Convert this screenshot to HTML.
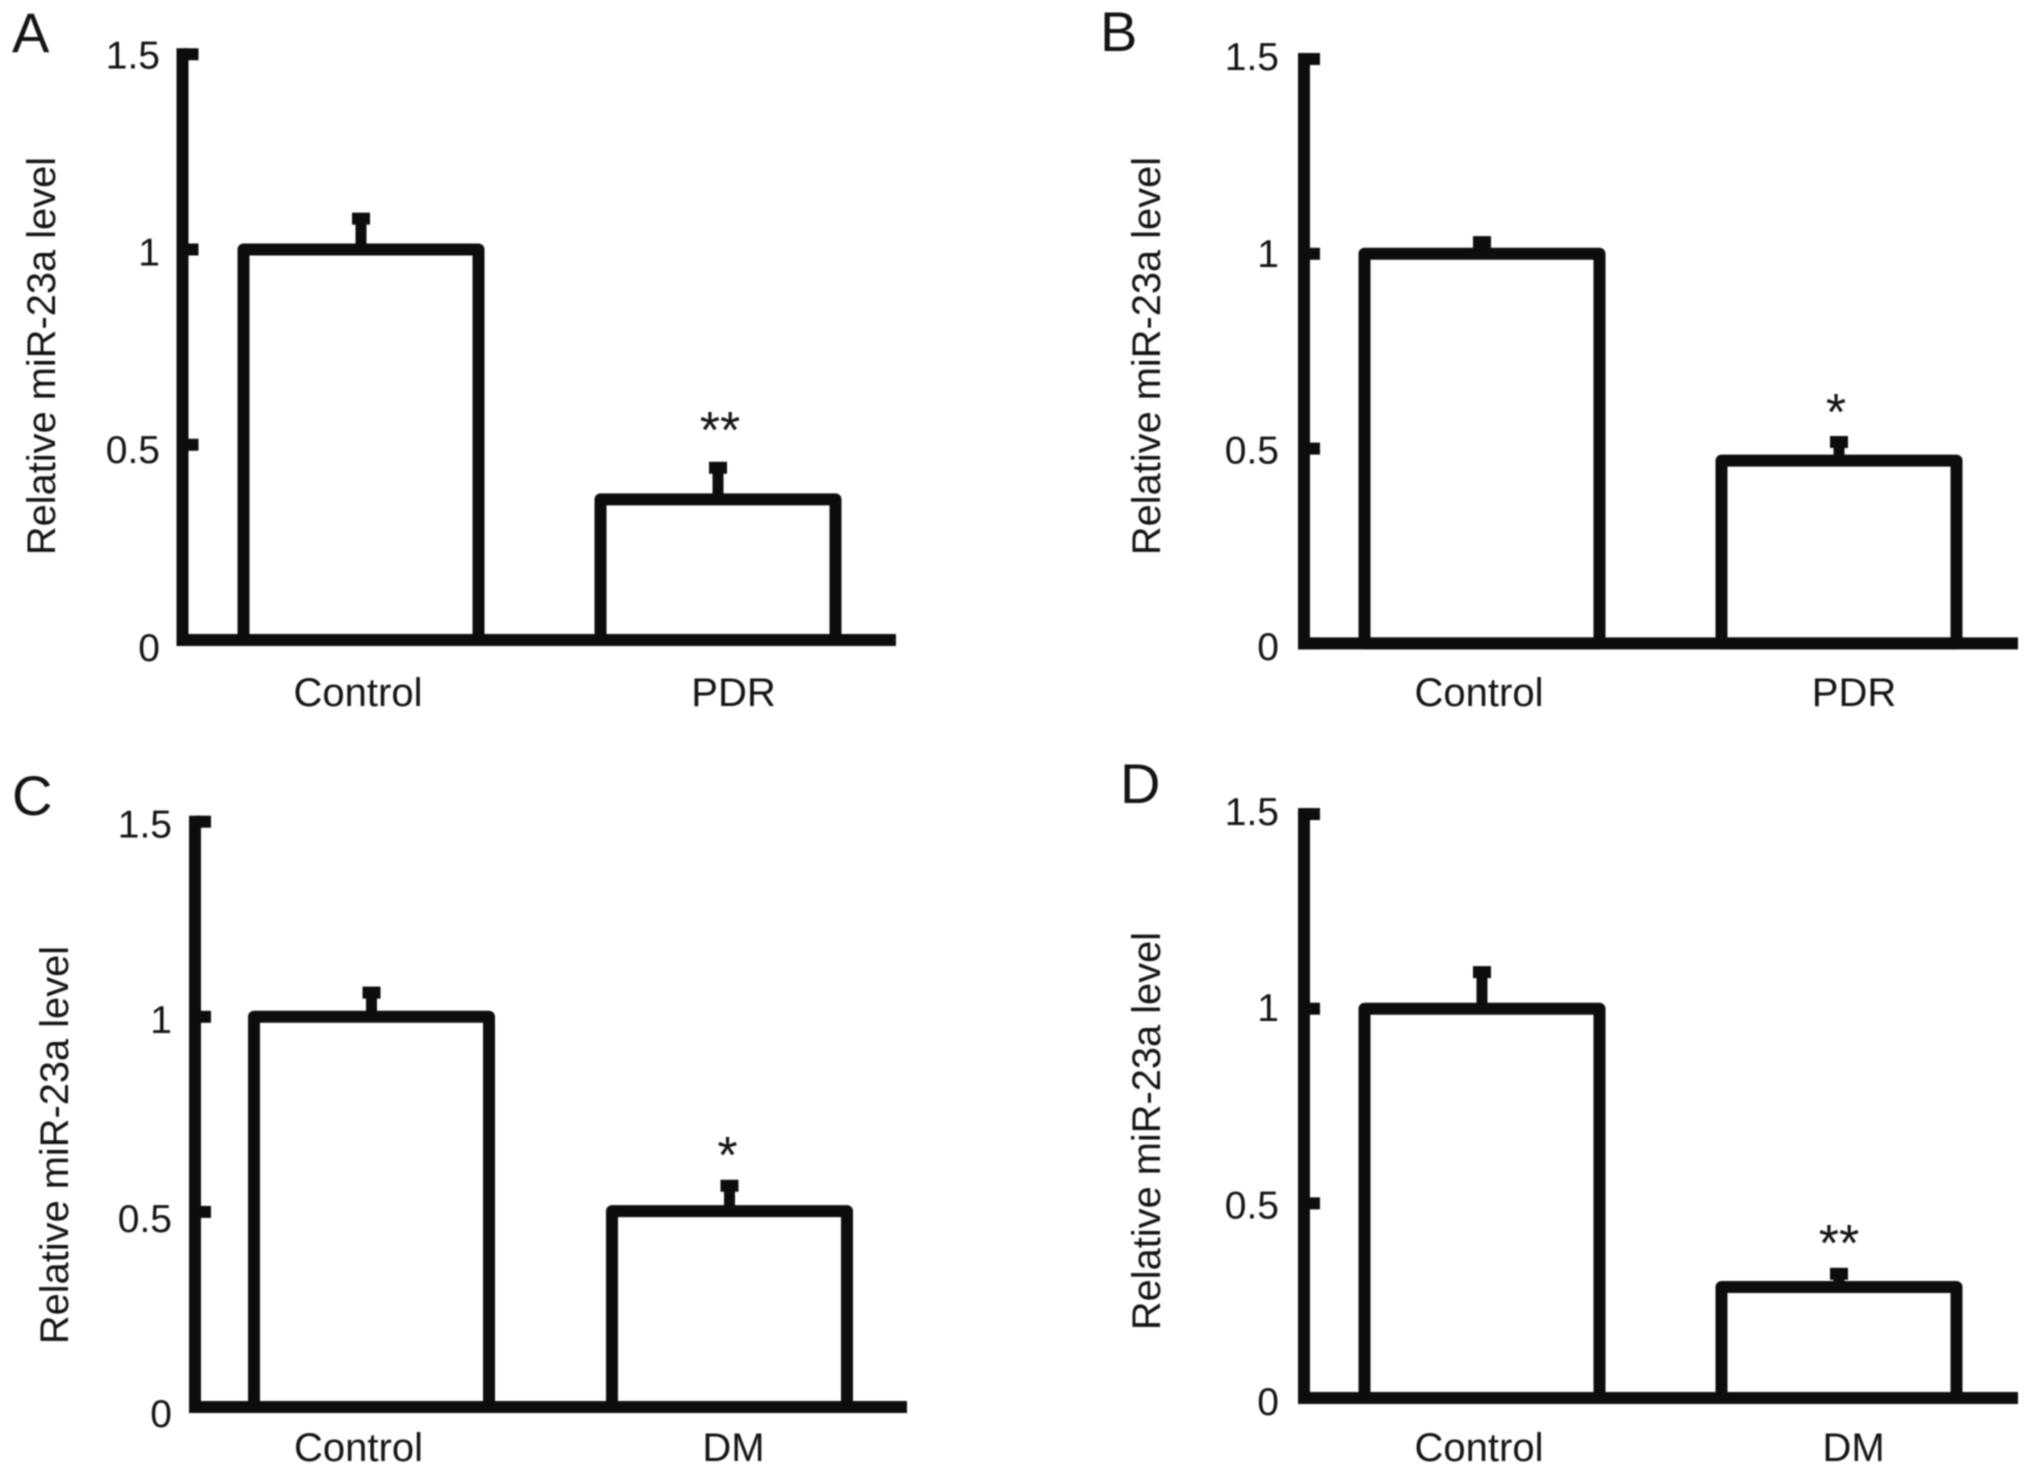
<!DOCTYPE html>
<html lang="en">
<head>
<meta charset="utf-8">
<title>Relative miR-23a level</title>
<style>
html,body{margin:0;padding:0;background:#fff;width:2031px;height:1475px;overflow:hidden}
svg{display:block;filter:blur(.7px)}
text{font-family:"Liberation Sans",Arial,sans-serif;fill:#141414}
</style>
</head>
<body>
<svg id="figure" xmlns="http://www.w3.org/2000/svg" width="2031" height="1475" viewBox="0 0 2031 1475"></svg>
<script>
// Chart data
const tickValues = [0, 0.5, 1, 1.5];
const tickLabels = ['0', '0.5', '1', '1.5'];
const yAxisTitle = 'Relative miR-23a level';

const panelACategories = ['Control', 'PDR'];
const panelAValues = [1, 0.36];
const panelAErrorTops = [1.079, 0.441];
const panelAMarks = ['', '**'];

const panelBCategories = ['Control', 'PDR'];
const panelBValues = [1, 0.469];
const panelBErrorTops = [1.03, 0.517];
const panelBMarks = ['', '*'];

const panelCCategories = ['Control', 'DM'];
const panelCValues = [1, 0.502];
const panelCErrorTops = [1.062, 0.567];
const panelCMarks = ['', '*'];

const panelDCategories = ['Control', 'DM'];
const panelDValues = [1, 0.285];
const panelDErrorTops = [1.094, 0.319];
const panelDMarks = ['', '**'];

const svg = document.getElementById('figure');
const NS = 'http://www.w3.org/2000/svg';
const INK = '#0d0d0d';

function make(parent, tag, attrs, name) {
  const el = document.createElementNS(NS, tag);
  for (const k in attrs) el.setAttribute(k, attrs[k]);
  
  
  parent.appendChild(el);
  return el;
}

function label(parent, x, y, str, size, anchor, name, rotate) {
  const attrs = {x: x, y: y, 'font-size': size, 'text-anchor': anchor};
  if (rotate) attrs.transform = 'rotate(-90 ' + x + ' ' + y + ')';
  const el = make(parent, 'text', attrs, name);
  el.textContent = str;
  return el;
}

function drawPanel(p) {
  const g = make(svg, 'g', {}, 'panel-' + p.id.toLowerCase());
  const yScale = v => p.y0 - v * p.unit;
  const xScale = i => p.bar0 + i * p.barStep;

  label(g, p.letterX, p.letterY, p.id, 56, 'start', 'panel-letter-' + p.id.toLowerCase());
  label(g, p.titleX, p.titleY, yAxisTitle, 39.8, 'middle', 'y-axis-title', true);

  // bars
  p.values.forEach((v, i) => {
    const cx = xScale(i);
    const top = yScale(v);
    const errTop = yScale(p.errorTops[i]);
    make(g, 'rect', {x: cx - 5.5, y: errTop, width: 11, height: top - errTop, fill: INK}, 'error-stem-' + p.categories[i].toLowerCase());
    make(g, 'rect', {x: cx - 9, y: errTop - 6, width: 18, height: 12, fill: INK}, 'error-cap-' + p.categories[i].toLowerCase());
    make(g, 'rect', {x: cx - p.barW / 2, y: top, width: p.barW, height: p.y0 - top, fill: '#fff', stroke: INK, 'stroke-width': 12, 'stroke-linejoin': 'round'}, 'bar-' + p.categories[i].toLowerCase());
    label(g, p.catX[i], p.catY, p.categories[i], 40, 'middle', 'x-label-' + p.categories[i].toLowerCase());
    if (p.marks[i]) {
      label(g, cx + p.markDx, errTop + p.markDy, p.marks[i], 52, 'middle', 'significance-mark');
    }
  });

  // axes
  make(g, 'rect', {x: p.axisX - 6, y: yScale(1.5) - 6, width: 12, height: p.y0 - yScale(1.5) + 12, fill: INK}, 'y-axis-line');
  make(g, 'rect', {x: p.axisX - 6, y: p.y0 - 6, width: p.axisEnd - p.axisX + 6, height: 12, fill: INK}, 'x-axis-line');

  // ticks
  tickValues.forEach((v, i) => {
    make(g, 'rect', {x: p.axisX, y: yScale(v) - 6, width: 16, height: 12, fill: INK}, 'y-tick-' + tickLabels[i]);
    label(g, p.tickRight, yScale(v) + p.labelOff[i], tickLabels[i], 39, 'end', 'y-tick-label-' + tickLabels[i]);
  });
}

drawPanel({id: 'A', categories: panelACategories, values: panelAValues, errorTops: panelAErrorTops, marks: panelAMarks,
  y0: 640, unit: 390.5, axisX: 182.5, axisEnd: 896, bar0: 361, barStep: 357, barW: 235,
  tickRight: 160, labelOff: [21, 18, 16, 14], catX: [358, 733.5], catY: 706,
  titleX: 55, titleY: 356, letterX: 12, letterY: 52, markDx: 2, markDy: -20});

drawPanel({id: 'B', categories: panelBCategories, values: panelBValues, errorTops: panelBErrorTops, marks: panelBMarks,
  y0: 643.4, unit: 389.6, axisX: 1304, axisEnd: 2018, bar0: 1482, barStep: 357, barW: 235,
  tickRight: 1279, labelOff: [16.6, 15, 13, 11], catX: [1479, 1854], catY: 706,
  titleX: 1160, titleY: 356, letterX: 1100, letterY: 51, markDx: -3, markDy: -12});

drawPanel({id: 'C', categories: panelCCategories, values: panelCValues, errorTops: panelCErrorTops, marks: panelCMarks,
  y0: 1407, unit: 390.2, axisX: 195, axisEnd: 907, bar0: 371.5, barStep: 358, barW: 235,
  tickRight: 172, labelOff: [20, 20, 16, 16], catX: [358.5, 733.5], catY: 1461,
  titleX: 68, titleY: 1145, letterX: 12, letterY: 815, markDx: -2, markDy: -13});

drawPanel({id: 'D', categories: panelDCategories, values: panelDValues, errorTops: panelDErrorTops, marks: panelDMarks,
  y0: 1398, unit: 389.3, axisX: 1304, axisEnd: 2018, bar0: 1482, barStep: 357, barW: 235,
  tickRight: 1279, labelOff: [17, 15, 12.5, 11], catX: [1479, 1853.6], catY: 1461,
  titleX: 1160, titleY: 1131, letterX: 1120, letterY: 803, markDx: 0, markDy: -13});
</script>
</body>
</html>
